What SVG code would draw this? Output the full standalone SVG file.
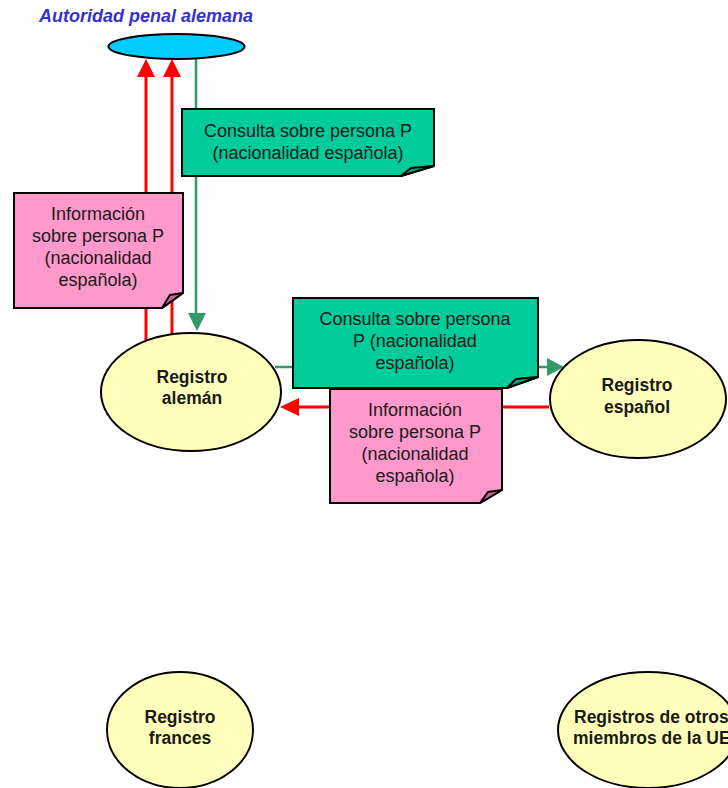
<svg xmlns="http://www.w3.org/2000/svg" width="728" height="788" viewBox="0 0 728 788">
<style>
text{font-family:"Liberation Sans",Arial,sans-serif;}
.t{font-size:18px;fill:#1a1a1a;text-anchor:middle;}
.b{font-size:17.5px;font-weight:bold;fill:#1a1a1a;text-anchor:middle;}
.reg{fill:#FFFFBB;stroke:#000;stroke-width:2;}
.note{stroke:#000;stroke-width:2;stroke-linejoin:miter;}
.g{fill:#00CC99;}
.gf{fill:#00A87E;}
.p{fill:#FF99CC;}
.pf{fill:#CC6699;}
.red{stroke:#FF0000;stroke-width:3;fill:none;}
.grn{stroke:#339966;stroke-width:2.5;fill:none;}
</style>
<rect width="728" height="788" fill="#fff"/>
<text x="39" y="22" style="font-size:18px;font-weight:bold;font-style:italic;fill:#3333CC;">Autoridad penal alemana</text>

<g id="connectors">
  <line class="red" x1="146" y1="74" x2="146" y2="340"/>
  <polygon points="146,59 137,77 155,77" fill="#FF0000"/>
  <line class="red" x1="172" y1="74" x2="172" y2="338"/>
  <polygon points="172,59 163,77 181,77" fill="#FF0000"/>
  <line class="grn" x1="196" y1="59" x2="196" y2="315"/>
  <polygon points="197,331 188,313 206,313" fill="#339966"/>
  <line class="grn" x1="275" y1="367" x2="549" y2="367"/>
  <polygon points="564,367 547,358 547,376" fill="#339966"/>
  <line class="red" x1="549" y1="407" x2="296" y2="407"/>
  <polygon points="280,407 299,398 299,416" fill="#FF0000"/>
</g>

<g id="autoridad">
  <ellipse cx="176.5" cy="46.5" rx="68" ry="12.5" fill="#00CCFF" stroke="#000" stroke-width="2"/>
</g>

<g id="registro-aleman">
  <ellipse class="reg" cx="191" cy="392" rx="90" ry="59"/>
  <text class="b" x="192" y="383">Registro</text>
  <text class="b" x="192" y="404">alemán</text>
</g>

<g id="registro-espanol">
  <ellipse class="reg" cx="638" cy="399" rx="88" ry="59"/>
  <text class="b" x="637" y="391">Registro</text>
  <text class="b" x="637" y="413">español</text>
</g>

<g id="registro-frances">
  <ellipse class="reg" cx="180" cy="730" rx="73" ry="58"/>
  <text class="b" x="180" y="723">Registro</text>
  <text class="b" x="180" y="744">frances</text>
</g>

<g id="registros-otros">
  <ellipse class="reg" cx="648" cy="730" rx="90" ry="58"/>
  <text class="b" x="574" y="723" style="text-anchor:start">Registros de otros</text>
  <text class="b" x="573" y="744" style="text-anchor:start">miembros de la UE</text>
</g>

<g id="consulta-1">
  <path class="note g" d="M182,109 H434 V166 L401,176 H182 Z"/>
  <path class="note gf" d="M401,176 L411,168 L434,166 Z"/>
  <text class="t" x="308" y="137">Consulta sobre persona P</text>
  <text class="t" x="308" y="159">(nacionalidad española)</text>
</g>

<g id="informacion-1">
  <path class="note p" d="M14,193 H183 V293 L162,308 H14 Z"/>
  <path class="note pf" d="M162,308 L170,295 L183,293 Z"/>
  <text class="t" x="98" y="220">Información</text>
  <text class="t" x="98" y="242">sobre persona P</text>
  <text class="t" x="98" y="264">(nacionalidad</text>
  <text class="t" x="98" y="286">española)</text>
</g>

<g id="consulta-2">
  <path class="note g" d="M293,298 H538 V377 L507,388 H293 Z"/>
  <path class="note gf" d="M507,388 L516,379 L538,377 Z"/>
  <text class="t" x="415" y="325">Consulta sobre persona</text>
  <text class="t" x="415" y="347">P (nacionalidad</text>
  <text class="t" x="415" y="369">española)</text>
</g>

<g id="informacion-2">
  <path class="note p" d="M330,389 H502 V490 L480,503 H330 Z"/>
  <path class="note pf" d="M480,503 L488,492 L502,490 Z"/>
  <text class="t" x="415" y="416">Información</text>
  <text class="t" x="415" y="438">sobre persona P</text>
  <text class="t" x="415" y="460">(nacionalidad</text>
  <text class="t" x="415" y="482">española)</text>
</g>
</svg>
